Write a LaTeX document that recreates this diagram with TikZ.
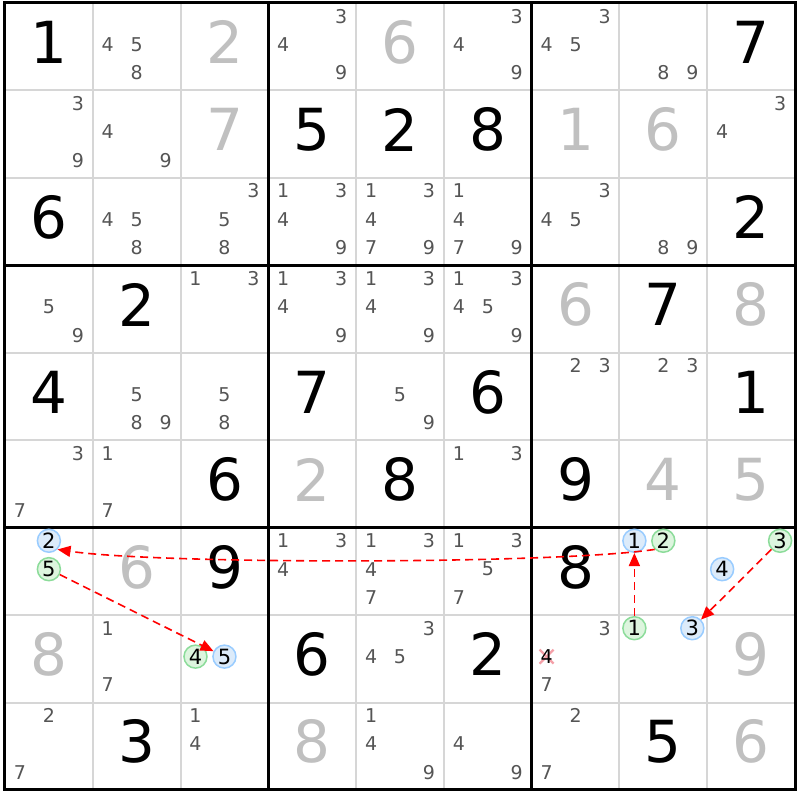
\documentclass[tikz,border=0pt]{standalone}
\usepackage{fontspec}
\setmainfont{DejaVu Sans}
\usepackage{tikz}
\usetikzlibrary{arrows.meta}

\definecolor{candgray}{HTML}{555555}
\definecolor{solvedgray}{HTML}{C0C0C0}
\definecolor{gridgray}{HTML}{D6D6D6}
\definecolor{bluering}{HTML}{99CCFF}
\definecolor{bluefill}{HTML}{DCEBFA}
\definecolor{greenring}{HTML}{8CDC9A}
\definecolor{greenfill}{HTML}{DDF5DE}
\definecolor{strikepink}{HTML}{F4A0A8}
\definecolor{linkred}{HTML}{FF0000}

\newcommand\givendigit[3]{\node[given] (n#1#2) at (#2+0.5,#1+0.45) {#3};}
\newcommand\solveddigit[3]{\node[solved] (n#1#2) at (#2+0.5,#1+0.45) {#3};}
\newcommand\candidates[3]{\foreach \d in {#3} {\node[cand] (n#1#2\d) at ({#2+0.17+0.33*mod(\d-1,3)},{#1+0.15+0.325*int((\d-1)/3)}) {\d};}}
\newcommand\marked[4]{\node[oncand=#4] (k#1#2#3) at ({#2+0.17+0.33*mod(#3-1,3)},{#1+0.15+0.325*int((#3-1)/3)}) {#3};}

\begin{document}
\begin{tikzpicture}[x=87.78pt, y=-87.44pt,
  given/.style={font=\fontsize{58}{58}\selectfont, text=black, inner sep=0pt},
  solved/.style={font=\fontsize{58}{58}\selectfont, text=solvedgray, inner sep=0pt},
  cand/.style={font=\fontsize{19}{19}\selectfont, text=candgray, inner sep=0pt},
  oncand/.style={circle, draw=#1ring, fill=#1fill, line width=1.5pt, minimum size=23pt, inner sep=0pt, font=\fontsize{21}{21}\selectfont},
  cellline/.style={gridgray, line width=2pt},
  boxline/.style={black, line width=3pt},
  strike/.style={strikepink, line width=2.2pt},
  link/.style={linkred, dash pattern=on 8pt off 5pt, line width=1.6pt, -{Triangle[length=13pt,width=11pt]}}]
\useasboundingbox[fill=white] (-5pt,3pt) rectangle (795pt,-797pt);

\foreach \i in {1,2,4,5,7,8} {
  \draw[cellline] (\i,0) -- (\i,9);
  \draw[cellline] (0,\i) -- (9,\i);
}
\foreach \i in {3,6} {
  \draw[boxline] (\i,0) -- (\i,9);
  \draw[boxline] (0,\i) -- (9,\i);
}
\draw[boxline] (0,0) rectangle (9,9);

\givendigit{0}{0}{1}
\candidates{0}{1}{4,5,8}
\solveddigit{0}{2}{2}
\candidates{0}{3}{3,4,9}
\solveddigit{0}{4}{6}
\candidates{0}{5}{3,4,9}
\candidates{0}{6}{3,4,5}
\candidates{0}{7}{8,9}
\givendigit{0}{8}{7}

\candidates{1}{0}{3,9}
\candidates{1}{1}{4,9}
\solveddigit{1}{2}{7}
\givendigit{1}{3}{5}
\givendigit{1}{4}{2}
\givendigit{1}{5}{8}
\solveddigit{1}{6}{1}
\solveddigit{1}{7}{6}
\candidates{1}{8}{3,4}

\givendigit{2}{0}{6}
\candidates{2}{1}{4,5,8}
\candidates{2}{2}{3,5,8}
\candidates{2}{3}{1,3,4,9}
\candidates{2}{4}{1,3,4,7,9}
\candidates{2}{5}{1,4,7,9}
\candidates{2}{6}{3,4,5}
\candidates{2}{7}{8,9}
\givendigit{2}{8}{2}

\candidates{3}{0}{5,9}
\givendigit{3}{1}{2}
\candidates{3}{2}{1,3}
\candidates{3}{3}{1,3,4,9}
\candidates{3}{4}{1,3,4,9}
\candidates{3}{5}{1,3,4,5,9}
\solveddigit{3}{6}{6}
\givendigit{3}{7}{7}
\solveddigit{3}{8}{8}

\givendigit{4}{0}{4}
\candidates{4}{1}{5,8,9}
\candidates{4}{2}{5,8}
\givendigit{4}{3}{7}
\candidates{4}{4}{5,9}
\givendigit{4}{5}{6}
\candidates{4}{6}{2,3}
\candidates{4}{7}{2,3}
\givendigit{4}{8}{1}

\candidates{5}{0}{3,7}
\candidates{5}{1}{1,7}
\givendigit{5}{2}{6}
\solveddigit{5}{3}{2}
\givendigit{5}{4}{8}
\candidates{5}{5}{1,3}
\givendigit{5}{6}{9}
\solveddigit{5}{7}{4}
\solveddigit{5}{8}{5}

\marked{6}{0}{2}{blue}
\marked{6}{0}{5}{green}
\solveddigit{6}{1}{6}
\givendigit{6}{2}{9}
\candidates{6}{3}{1,3,4}
\candidates{6}{4}{1,3,4,7}
\candidates{6}{5}{1,3,5,7}
\givendigit{6}{6}{8}
\marked{6}{7}{1}{blue}
\marked{6}{7}{2}{green}
\marked{6}{8}{3}{green}
\marked{6}{8}{4}{blue}

\solveddigit{7}{0}{8}
\candidates{7}{1}{1,7}
\marked{7}{2}{4}{green}
\marked{7}{2}{5}{blue}
\givendigit{7}{3}{6}
\candidates{7}{4}{3,4,5}
\givendigit{7}{5}{2}
\candidates{7}{6}{3,7}
\coordinate (x764) at (6.17,7.475);
\draw[strike] ([shift={(-7pt,-7pt)}]x764) -- ([shift={(7pt,7pt)}]x764);
\draw[strike] ([shift={(-7pt,7pt)}]x764) -- ([shift={(7pt,-7pt)}]x764);
\node[cand, text=black] (n764) at (x764) {4};
\marked{7}{7}{1}{green}
\marked{7}{7}{3}{blue}
\solveddigit{7}{8}{9}

\candidates{8}{0}{2,7}
\givendigit{8}{1}{3}
\candidates{8}{2}{1,4}
\solveddigit{8}{3}{8}
\candidates{8}{4}{1,4,9}
\candidates{8}{5}{4,9}
\candidates{8}{6}{2,7}
\givendigit{8}{7}{5}
\solveddigit{8}{8}{6}

\draw[link] (k672.south west) .. controls +(-100pt,-15pt) and +(100pt,-15pt) .. (k602.south east);
\draw[link] (k605) -- (k725);
\draw[link] (k771) -- (k671);
\draw[link] (k683) -- (k773);
\end{tikzpicture}
\end{document}
